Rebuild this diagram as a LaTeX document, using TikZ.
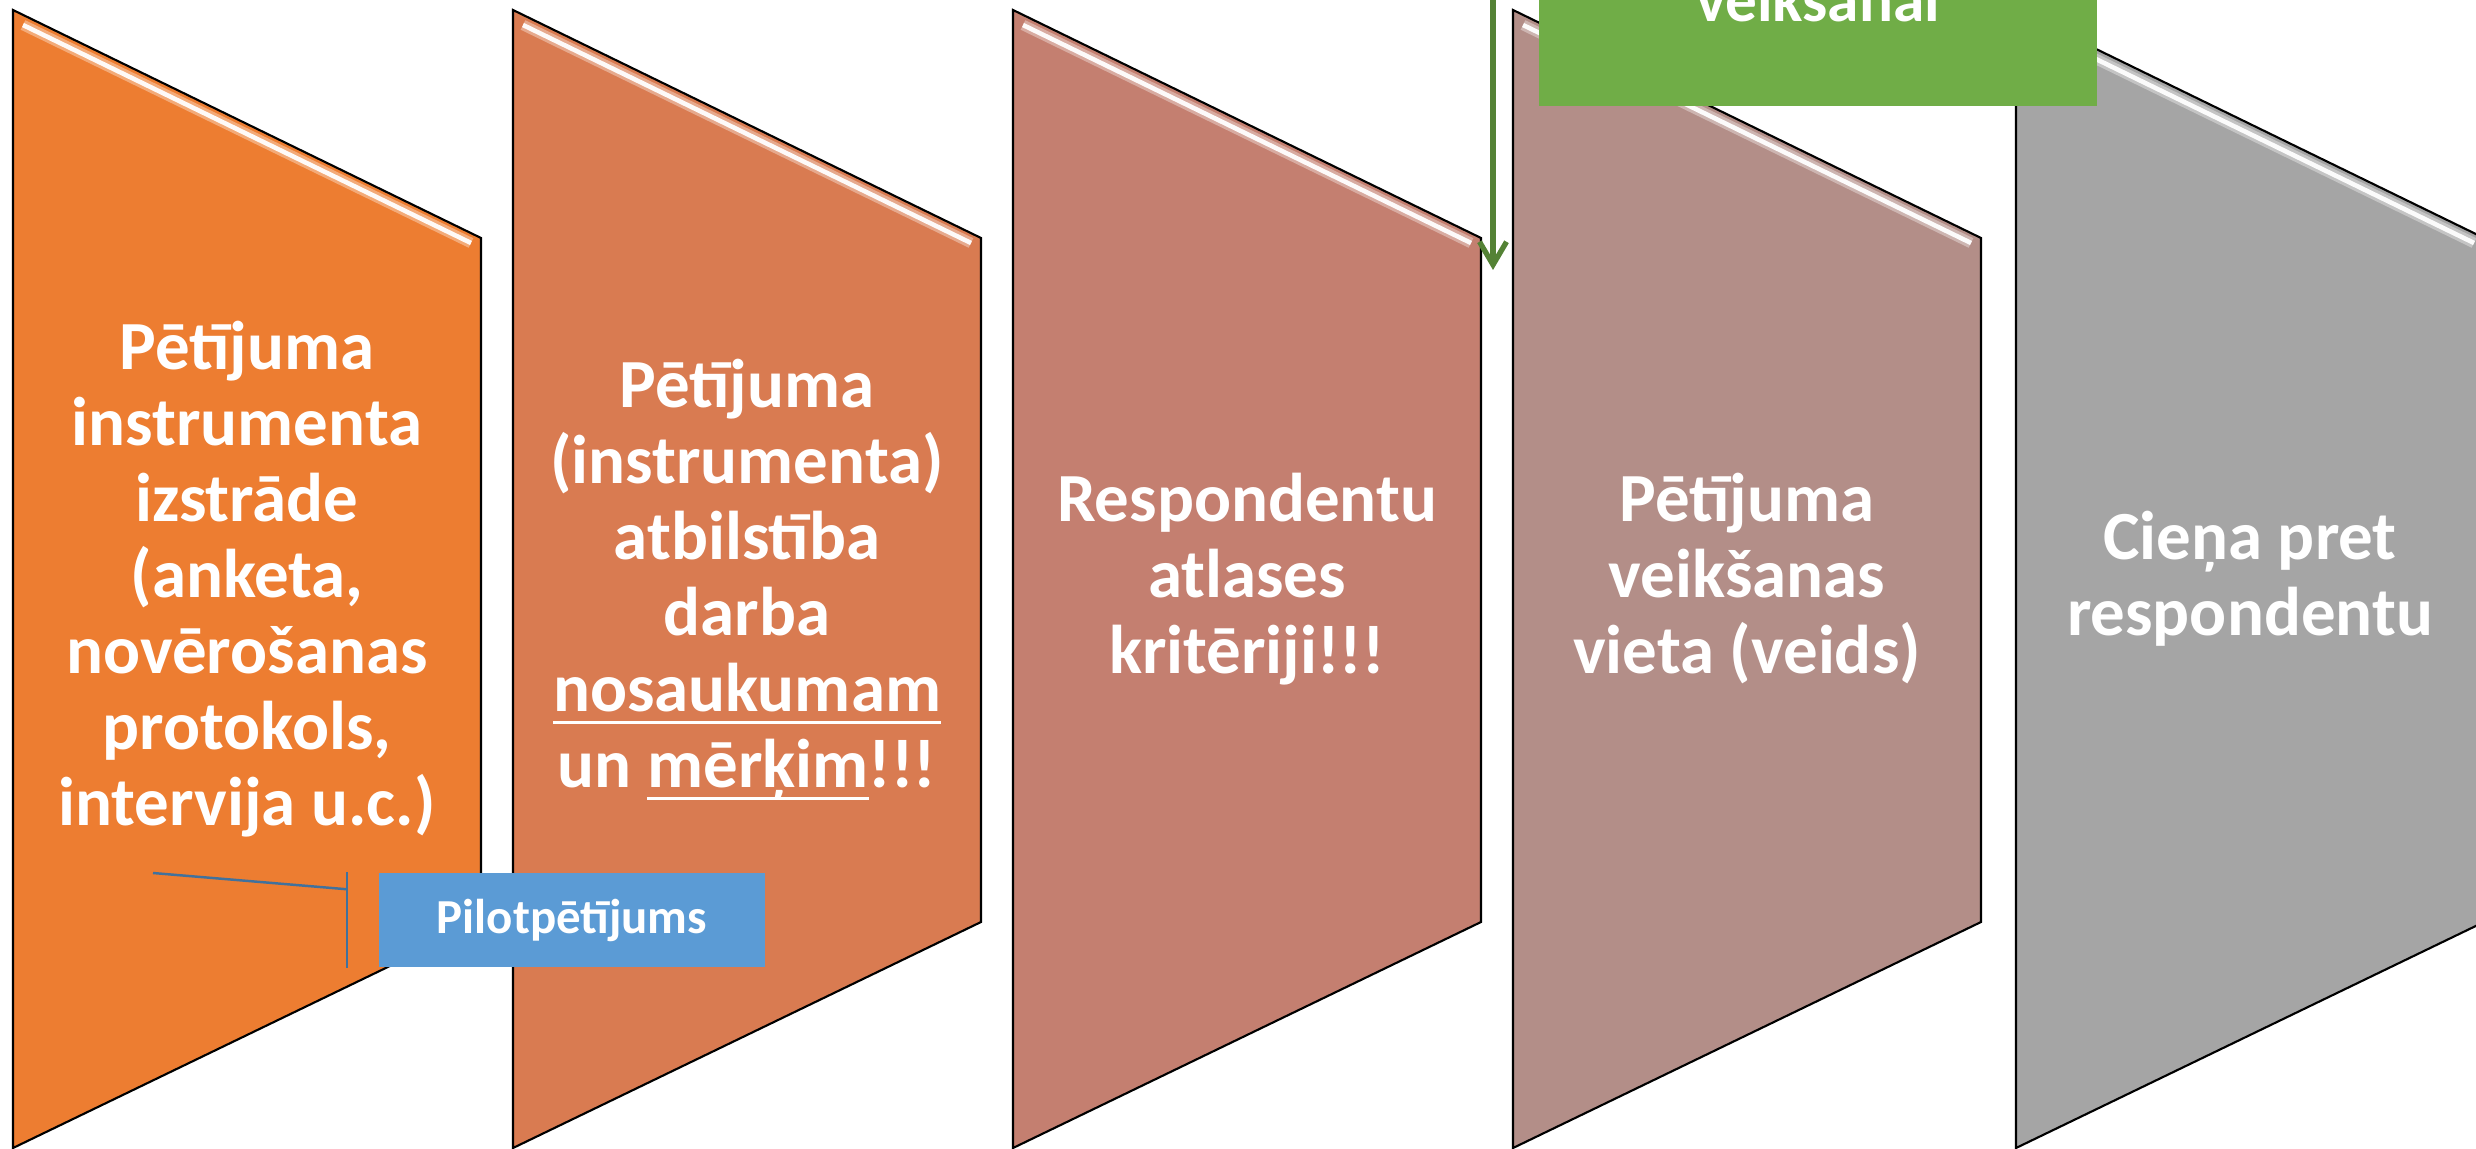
\documentclass[tikz,border=0pt]{standalone}
\usepackage{fontspec}
\setmainfont{Carlito}
\usetikzlibrary{arrows.meta}

\definecolor{panelA}{HTML}{ED7D31}
\definecolor{panelB}{HTML}{D97B51}
\definecolor{panelC}{HTML}{C47F70}
\definecolor{panelD}{HTML}{B38E88}
\definecolor{panelE}{HTML}{A5A5A5}
\definecolor{gfill}{HTML}{70AD47}
\definecolor{gline}{HTML}{548235}
\definecolor{bfill}{HTML}{5B9BD5}
\definecolor{bline}{HTML}{41719C}

\newcommand{\ulword}[1]{\setbox0\hbox{#1}\rlap{\rule[-3.6pt]{\wd0}{0.9pt}}\box0}

\begin{document}
\begin{tikzpicture}[x=0.01cm,y=-0.01cm,
  panel/.style={draw=black,line width=0.6pt},
  glow/.style={white,line width=1.3pt,opacity=0.95},
  haze/.style={white,line width=3pt,opacity=0.35},
  lbl/.style={text=white,align=center,font=\fontsize{19.6}{21.6}\selectfont\bfseries,
    execute at begin node=\strut,execute at end node=\strut},
  pilotbox/.style={fill=bfill,text=white,inner sep=0pt,minimum width=3.86cm,
    minimum height=0.94cm,font=\fontsize{13.9}{16}\selectfont\bfseries},
  gbox/.style={fill=gfill,text=white,inner sep=0pt,text width=5.58cm,align=center,
    text height=1.5cm,text depth=0.84cm,anchor=base,font=\fontsize{18}{21}\selectfont\bfseries}]

\useasboundingbox (0,0) rectangle (2476,1149);
\clip (0,0) rectangle (2476,1149);

% panels
\filldraw[panel,fill=panelA] (13,10) -- (481,238) -- (481,922) -- (13,1148) -- cycle;
\filldraw[panel,fill=panelB] (513,10) -- (981,238) -- (981,922) -- (513,1148) -- cycle;
\filldraw[panel,fill=panelC] (1013,10) -- (1481,238) -- (1481,922) -- (1013,1148) -- cycle;
\filldraw[panel,fill=panelD] (1513,10) -- (1981,238) -- (1981,922) -- (1513,1148) -- cycle;
\filldraw[panel,fill=panelE] (2016,10) -- (2484,238) -- (2484,922) -- (2016,1148) -- cycle;

\draw[haze] (23,25) -- (471,243);
\draw[haze] (523,25) -- (971,243);
\draw[haze] (1023,25) -- (1471,243);
\draw[haze] (1523,25) -- (1971,243);
\draw[haze] (2026,25) -- (2474,243);
\draw[glow] (23,25) -- (471,243);
\draw[glow] (523,25) -- (971,243);
\draw[glow] (1023,25) -- (1471,243);
\draw[glow] (1523,25) -- (1971,243);
\draw[glow] (2026,25) -- (2474,243);

\node[lbl] (p1) at (247,585) {Pētījuma\\instrumenta\\izstrāde\\(anketa,\\novērošanas\\protokols,\\intervija u.c.)};
\node[lbl] (p2) at (747,585) {Pētījuma\\(instrumenta)\\atbilstība\\darba\\\ulword{nosaukumam}\\un \ulword{mērķim}!!!};
\node[lbl] (p3) at (1247,585) {Respondentu\\atlases\\kritēriji!!!};
\node[lbl] (p4) at (1747,585) {Pētījuma\\veikšanas\\vieta (veids)};
\node[lbl] (p5) at (2250,585) {Cieņa pret\\respondentu};

% callout
\node[pilotbox] (pilot) at (572,920) {Pilotpētījums};
\coordinate (cstart) at (153,873);
\draw[bline,line width=0.7pt] (cstart) -- ([xshift=-0.31cm,yshift=-0.17cm]pilot.north west);
\draw[bline,line width=0.7pt] ([xshift=-0.31cm]pilot.north west) -- ([xshift=-0.31cm]pilot.south west);

% green box and arrow
\node[gbox] (gbox) at (1818,22) {veikšanai};
\coordinate (arrtop) at (1493,-20);
\coordinate (arrtip) at (1493,270);
\draw[-{Straight Barb[length=0.23cm,width=0.27cm]},gline,line width=1.5pt] (arrtop) -- (arrtip);

\end{tikzpicture}
\end{document}
